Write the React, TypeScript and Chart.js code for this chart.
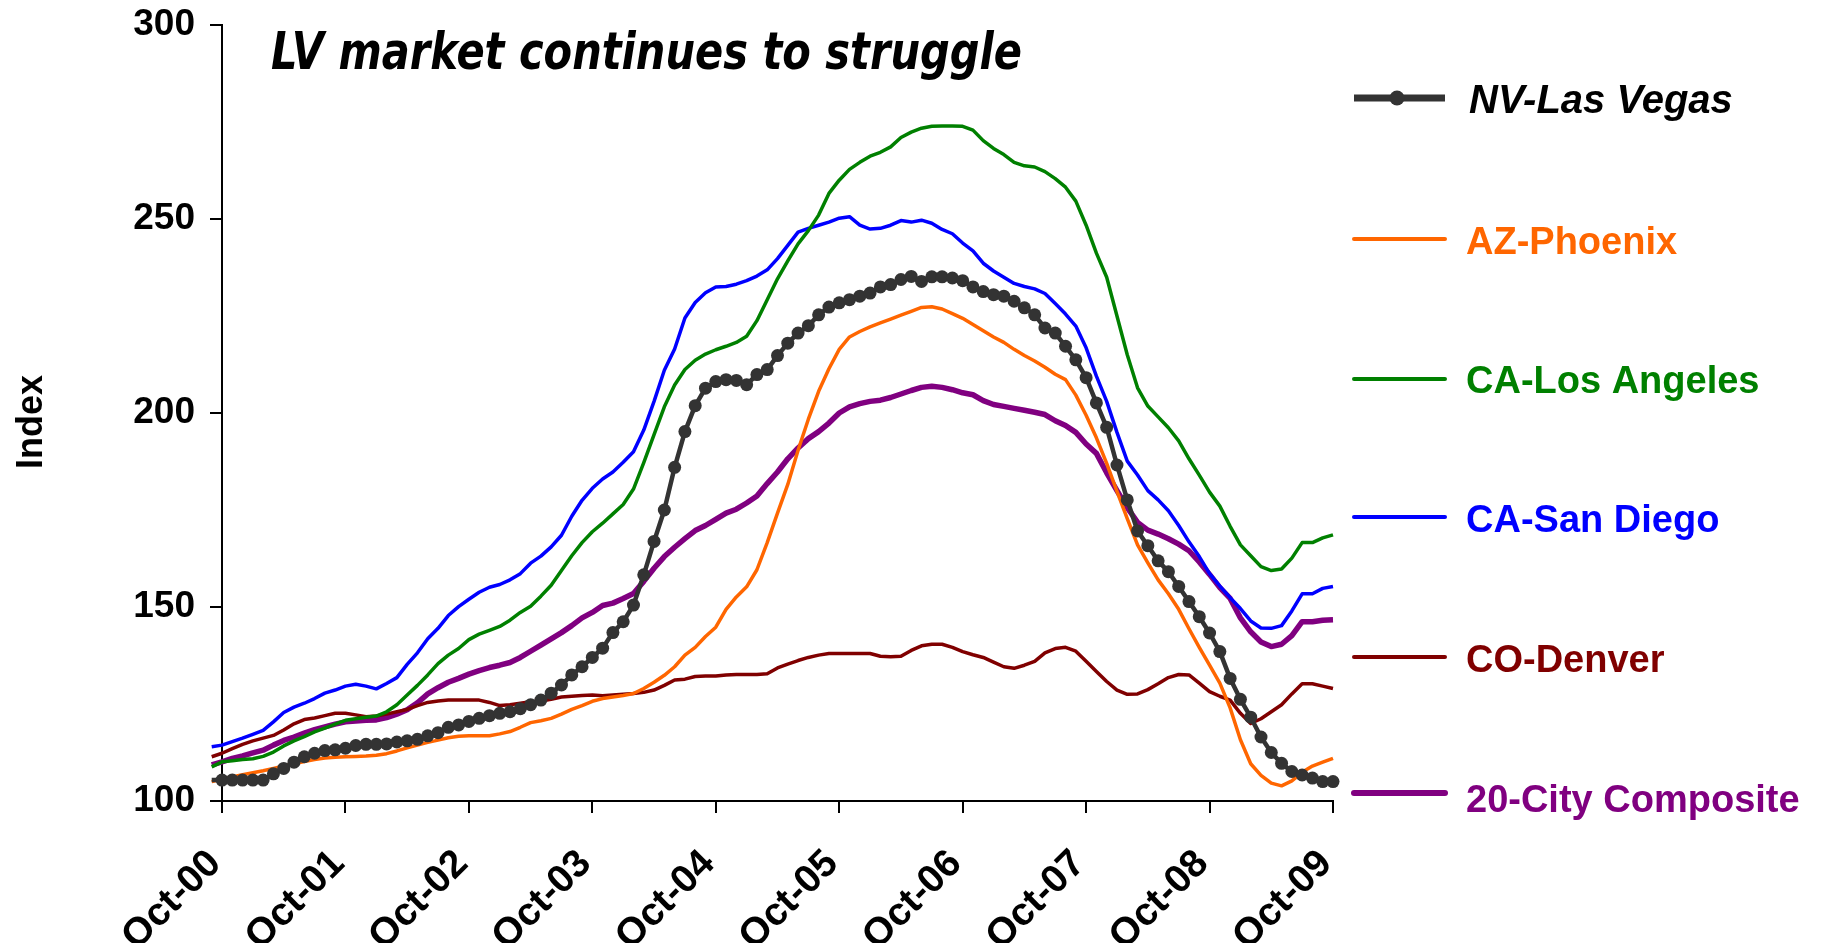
import { useEffect, useRef } from "react";
import { Chart, registerables } from "chart.js";

Chart.register(...registerables);

// Year tick labels on the x axis (one every 12 months, Oct-00 .. Oct-09)
const tickLabels = ["Oct-00", "Oct-01", "Oct-02", "Oct-03", "Oct-04", "Oct-05", "Oct-06", "Oct-07", "Oct-08", "Oct-09"];

const seriesNames = ["NV-Las Vegas", "AZ-Phoenix", "CA-Los Angeles", "CA-San Diego", "CO-Denver", "20-City Composite"];

const chartTitle = "LV market continues to struggle";
const yAxisTitle = "Index";

// Monthly index values, Sep-00 .. Oct-09 (110 months)
const lasVegas = [
  105.4, 105.4, 105.4, 105.4, 105.4, 105.4,
  107.0, 108.4, 110.0, 111.4, 112.3, 113.0, 113.2, 113.6,
  114.3, 114.6, 114.6, 114.7, 115.2, 115.5, 115.9, 116.8, 117.6, 119.0, 119.6, 120.5,
  121.3, 122.0, 122.6, 123.0, 123.8, 124.8, 126.0, 127.8, 129.9, 132.5, 134.6, 137.0,
  139.4, 143.4, 146.2, 150.5, 158.3, 166.9, 175.0, 186.0, 195.2, 201.9, 206.4, 208.1,
  208.6, 208.4, 207.3, 209.9, 211.2, 214.8, 218.0, 220.6, 222.5, 225.3, 227.3, 228.4,
  229.2, 230.1, 230.9, 232.5, 233.1, 234.4, 235.2, 233.9, 235.1, 235.1, 234.8, 234.1,
  232.5, 231.3, 230.5, 230.1, 228.8, 227.1, 225.3, 221.9, 220.6, 217.2, 213.7, 209.1,
  202.6, 196.3, 186.6, 177.6, 169.6, 165.8, 161.9, 159.1, 155.3, 151.4, 147.5, 143.3,
  138.5, 131.6, 126.2, 121.6, 116.5, 112.5, 109.7, 107.6, 106.7, 105.9, 105.0, 105.0,
];

const phoenix = [
  105.0, 105.6, 106.2, 106.8, 107.3, 107.8, 108.4, 109.0, 109.6, 110.2, 110.7, 111.1,
  111.3, 111.4, 111.5, 111.6, 111.8, 112.2, 112.9, 113.7, 114.4, 115.1, 115.7, 116.3,
  116.7, 116.8, 116.8, 116.8, 117.3, 117.9, 119.0, 120.2, 120.7, 121.3, 122.4, 123.6,
  124.6, 125.7, 126.4, 126.8, 127.2, 127.7, 129.0, 130.6, 132.4, 134.6, 137.6, 139.6,
  142.4, 144.8, 149.4, 152.6, 155.2, 159.6, 166.6, 174.2, 181.6, 190.4, 198.4, 205.6,
  211.4, 216.4, 219.6, 221.0, 222.2, 223.2, 224.2, 225.2, 226.2, 227.2, 227.4, 226.8,
  225.6, 224.4, 222.8, 221.2, 219.6, 218.2, 216.4, 214.8, 213.4, 211.8, 210.0, 208.6,
  204.6, 199.4, 193.6, 187.0, 179.8, 172.8, 166.0, 161.4, 157.0, 153.4, 149.4, 144.4,
  139.6, 135.0, 130.4, 124.0, 115.8, 109.6, 106.6, 104.6, 103.9, 105.2, 107.4, 109.0,
  110.0, 111.0,
];

const losAngeles = [
  108.8, 110.1, 110.4, 110.7, 110.9, 111.5, 112.6, 114.2, 115.5, 116.6, 117.8, 118.8,
  119.8, 120.8, 121.2, 121.6, 121.9, 123.0, 124.8, 127.3, 129.8, 132.5, 135.4, 137.6,
  139.3, 141.6, 143.0, 144.0, 145.0, 146.6, 148.6, 150.2, 152.8, 155.6, 159.4, 163.2,
  166.6, 169.4, 171.6, 174.0, 176.4, 180.4, 187.2, 194.4, 201.6, 207.2, 211.2, 213.6,
  215.2, 216.3, 217.2, 218.2, 219.8, 223.8, 229.2, 234.6, 239.2, 243.6, 247.0, 251.0,
  256.6, 260.0, 262.8, 264.6, 266.2, 267.2, 268.6, 271.0, 272.4, 273.4, 273.9, 274.0,
  274.0, 273.9, 272.9, 270.2, 268.2, 266.6, 264.6, 263.7, 263.4, 262.2, 260.4, 258.2,
  254.6, 248.4, 241.2, 235.0, 225.0, 215.0, 206.5, 201.8, 199.0, 196.2, 192.8, 188.2,
  184.0, 179.6, 176.0, 170.8, 166.0, 163.2, 160.4, 159.4, 159.8, 162.6, 166.6, 166.6,
  167.8, 168.6,
];

const sanDiego = [
  114.0, 114.4, 115.3, 116.2, 117.2, 118.2, 120.4, 122.8, 124.2, 125.2, 126.4, 127.8,
  128.6, 129.6, 130.1, 129.6, 128.9, 130.3, 131.8, 135.2, 138.2, 141.8, 144.5, 147.8,
  150.1, 152.0, 153.8, 155.1, 155.8, 157.0, 158.6, 161.3, 163.1, 165.5, 168.5, 173.4,
  177.5, 180.6, 183.0, 184.8, 187.3, 190.0, 195.6, 203.0, 211.0, 216.5, 224.5, 228.5,
  231.0, 232.5, 232.6, 233.2, 234.1, 235.3, 236.9, 239.8, 243.2, 246.6, 247.6, 248.4,
  249.2, 250.2, 250.6, 248.4, 247.4, 247.6, 248.4, 249.6, 249.2, 249.7, 248.9, 247.3,
  246.2, 243.8, 241.8, 238.6, 236.6, 235.0, 233.4, 232.6, 232.0, 230.8, 228.2, 225.5,
  222.4, 216.8, 209.5, 203.0, 195.0, 187.6, 184.0, 180.0, 177.6, 174.8, 171.0, 166.8,
  163.0, 158.6, 155.4, 152.4, 149.6, 146.4, 144.6, 144.5, 145.2, 149.0, 153.4, 153.4,
  154.8, 155.3,
];

const denver = [
  111.4, 112.3, 113.5, 114.6, 115.5, 116.2, 116.9, 118.3, 119.9, 121.0, 121.4, 122.0,
  122.6, 122.6, 122.2, 121.7, 121.9, 122.4, 123.0, 123.6, 124.6, 125.4, 125.8, 126.0,
  126.0, 126.0, 126.0, 125.4, 124.6, 124.8, 125.2, 125.6, 125.8, 126.2, 126.8, 127.0,
  127.2, 127.3, 127.1, 127.3, 127.5, 127.7, 128.0, 128.6, 129.8, 131.2, 131.4, 132.1,
  132.2, 132.2, 132.5, 132.6, 132.6, 132.6, 132.8, 134.3, 135.3, 136.2, 137.0, 137.6,
  138.0, 138.0, 138.0, 138.0, 138.0, 137.3, 137.2, 137.3, 138.8, 140.0, 140.4, 140.4,
  139.6, 138.5, 137.7, 137.0, 135.8, 134.6, 134.2, 135.0, 136.0, 138.2, 139.3, 139.6,
  138.6, 136.0, 133.4, 130.8, 128.6, 127.5, 127.6, 128.7, 130.2, 131.8, 132.6, 132.5,
  130.4, 128.2, 127.0, 126.0, 122.6, 120.0, 121.2, 123.0, 124.8, 127.6, 130.2, 130.2,
  129.6, 129.0,
];

const composite20 = [
  109.3, 110.1, 111.0, 111.6, 112.4, 113.1, 114.4, 115.6, 116.5, 117.5, 118.4, 119.1,
  119.8, 120.4, 120.6, 120.8, 120.9, 121.5, 122.4, 123.5, 125.3, 127.6, 129.2, 130.6,
  131.6, 132.7, 133.6, 134.4, 135.0, 135.7, 137.0, 138.6, 140.2, 141.8, 143.4, 145.2,
  147.2, 148.6, 150.4, 151.0, 152.2, 153.5, 156.6, 160.0, 163.0, 165.4, 167.6, 169.7,
  171.0, 172.6, 174.2, 175.2, 176.8, 178.6, 181.8, 184.8, 188.2, 191.0, 193.4, 195.2,
  197.4, 200.0, 201.6, 202.4, 203.0, 203.3, 204.0, 204.9, 205.8, 206.6, 206.9, 206.6,
  206.0, 205.2, 204.7, 203.2, 202.2, 201.7, 201.2, 200.7, 200.2, 199.6, 198.0, 196.8,
  195.0, 192.0, 189.6, 184.6, 180.0, 175.6, 171.8, 169.8, 168.8, 167.6, 166.2, 164.5,
  161.6, 158.4, 155.0, 152.2, 147.2, 143.6, 141.0, 139.8, 140.4, 142.6, 146.2, 146.2,
  146.6, 146.7,
];

const seriesValues = [lasVegas, phoenix, losAngeles, sanDiego, denver, composite20];
const seriesColors = ["#333333", "#FF6600", "#008000", "#0000FF", "#800000", "#800080"];
const seriesWidths = [4.5, 3.5, 3.5, 3.5, 3.5, 5.5];

const FONT = '"Liberation Sans", Arial, Helvetica, sans-serif';

export default function App() {
  const ref = useRef<HTMLCanvasElement | null>(null);

  useEffect(() => {
    if (!ref.current) return;
    // first value is Sep-00, one month before the Oct-00 axis origin
    const toPoints = (arr: number[]) => arr.map((v, i) => ({ x: i - 1, y: v }));

    const overlay = {
      id: "overlay",
      afterDraw(chart: any) {
        const ctx = chart.ctx as CanvasRenderingContext2D;
        ctx.save();
        // Title inside plot area (Comic-like: tall, narrow, bold italic)
        ctx.fillStyle = "#000";
        ctx.textAlign = "left";
        ctx.textBaseline = "alphabetic";
        const titleFont = `italic bold 51px "Comic Sans MS", "DejaVu Sans", sans-serif`;
        ctx.font = titleFont;
        const w = ctx.measureText(chartTitle).width;
        const sx = 751 / w;
        ctx.save();
        ctx.translate(271, 69);
        ctx.scale(sx, 1);
        ctx.fillText(chartTitle, 0, 0);
        ctx.restore();

        // Y axis title
        ctx.save();
        ctx.translate(42, 422);
        ctx.rotate(-Math.PI / 2);
        ctx.textAlign = "center";
        ctx.textBaseline = "alphabetic";
        ctx.font = `bold 36px ${FONT}`;
        ctx.fillText(yAxisTitle, 0, 0);
        ctx.restore();

        // Legend
        const lineY = [98, 239, 379, 517, 657, 793];
        const baseY = [113, 254, 393, 532, 672, 812];
        const lineW = [7, 4, 4, 4, 4, 6];
        for (let i = 0; i < seriesNames.length; i++) {
          ctx.beginPath();
          ctx.strokeStyle = seriesColors[i];
          ctx.lineWidth = lineW[i];
          ctx.lineCap = i === 0 ? "butt" : "round";
          ctx.moveTo(1354, lineY[i]);
          ctx.lineTo(1445, lineY[i]);
          ctx.stroke();
          if (i === 0) {
            ctx.beginPath();
            ctx.fillStyle = "#333333";
            ctx.arc(1397, lineY[i], 7.5, 0, Math.PI * 2);
            ctx.fill();
          }
          ctx.fillStyle = i === 0 ? "#000000" : seriesColors[i];
          ctx.font = i === 0 ? `italic bold 40px ${FONT}` : `bold 38px ${FONT}`;
          ctx.textAlign = "left";
          ctx.textBaseline = "alphabetic";
          ctx.fillText(seriesNames[i], i === 0 ? 1469 : 1466, baseY[i]);
        }
        ctx.restore();
      },
    };

    const yTickFont = { family: FONT, size: 37, weight: "bold" as const };
    const xTickFont = { family: FONT, size: 39, weight: "bold" as const };

    const chart = new Chart(ref.current, {
      type: "line",
      data: {
        datasets: seriesValues.map((vals, i) => ({
          label: seriesNames[i],
          data: toPoints(vals),
          borderColor: seriesColors[i],
          backgroundColor: seriesColors[i],
          borderWidth: seriesWidths[i],
          pointRadius: i === 0 ? 6.5 : 0,
          pointBackgroundColor: seriesColors[i],
          pointBorderWidth: 0,
          pointHoverRadius: 0,
          borderJoinStyle: "round" as const,
          tension: 0,
          fill: false,
          clip: false as any,
        })),
      },
      options: {
        animation: false,
        responsive: false,
        events: [],
        layout: { padding: { top: 25, right: 488, left: 0, bottom: 0 } },
        plugins: {
          legend: { display: false },
          tooltip: { enabled: false },
          title: { display: false },
        },
        scales: {
          x: {
            type: "linear",
            min: 0,
            max: 108,
            afterFit: (s: any) => {
              s.height = 142;
              s.paddingLeft = 0;
              s.paddingRight = 0;
            },
            ticks: {
              stepSize: 12,
              autoSkip: false,
              maxRotation: 45,
              minRotation: 45,
              padding: 28,
              labelOffset: -7,
              color: "#000",
              font: xTickFont,
              callback: (v: any) => {
                const idx = Math.round(Number(v) / 12);
                return Number(v) % 12 === 0 ? tickLabels[idx] ?? "" : "";
              },
            },
            grid: { drawOnChartArea: false, drawTicks: true, tickLength: 12, color: "#000", lineWidth: 2 },
            border: { display: true, color: "#000", width: 2 },
          },
          y: {
            min: 100,
            max: 300,
            afterFit: (s: any) => {
              s.width = 222;
              s.paddingTop = 0;
              s.paddingBottom = 0;
            },
            ticks: {
              stepSize: 50,
              padding: 15,
              color: "#000",
              font: yTickFont,
            },
            grid: { drawOnChartArea: false, drawTicks: true, tickLength: 12, color: "#000", lineWidth: 2 },
            border: { display: true, color: "#000", width: 2 },
          },
        },
      },
      plugins: [overlay],
    });
    return () => chart.destroy();
  }, []);

  return (
    <div style={{ position: "absolute", left: 0, top: 0, width: 1821, height: 943, background: "#fff" }}>
      <canvas ref={ref} width={1821} height={943} style={{ display: "block" }} />
    </div>
  );
}
